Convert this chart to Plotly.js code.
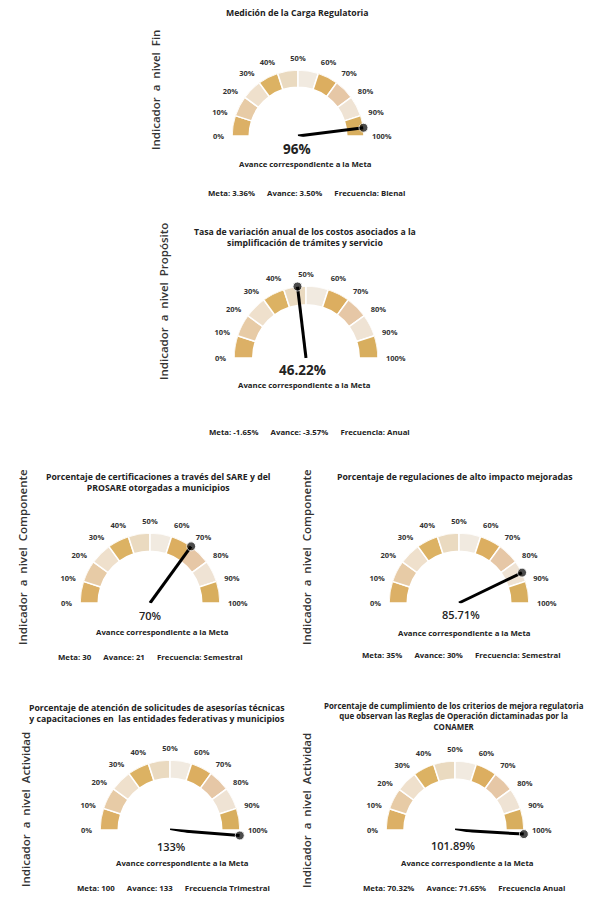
<!DOCTYPE html>
<html>
<head>
<meta charset="utf-8">
<script src="https://cdn.plot.ly/plotly-3.0.1.min.js"></script>
<style>html,body{margin:0;padding:0;background:#fff;}#chart{width:592px;height:912px;}</style>
</head>
<body>
<div id="chart"></div>
<script>
// ---- data ----
const levels = ['Fin', 'Propósito', 'Componente', 'Componente', 'Actividad', 'Actividad'];
const titles = [
  'Medición de la Carga Regulatoria',
  'Tasa de variación anual de los costos asociados a la<br>simplificación de trámites y servicio',
  'Porcentaje de certificaciones a través del SARE y del<br>PROSARE otorgadas a municipios',
  'Porcentaje de regulaciones de alto impacto mejoradas',
  'Porcentaje de atención de solicitudes de asesorías técnicas<br>y capacitaciones en  las entidades federativas y municipios',
  'Porcentaje de cumplimiento de los criterios de mejora regulatoria<br>que observan las Reglas de Operación dictaminadas por la<br>CONAMER'
];
const values = [96, 46.22, 70, 85.71, 133, 101.89];
const valueLabels = ['96%', '46.22%', '70%', '85.71%', '133%', '101.89%'];
const metas = ['Meta: 3.36%', 'Meta: -1.65%', 'Meta: 30', 'Meta: 35%', 'Meta: 100', 'Meta: 70.32%'];
const avances = ['Avance: 3.50%', 'Avance: -3.57%', 'Avance: 21', 'Avance: 30%', 'Avance: 133', 'Avance: 71.65%'];
const frecuencias = ['Frecuencia: Bienal', 'Frecuencia: Anual', 'Frecuencia: Semestral', 'Frecuencia: Semestral', 'Frecuencia Trimestral', 'Frecuencia Anual'];
const tickValues = [0, 10, 20, 30, 40, 50, 60, 70, 80, 90, 100];
const tickLabels = ['0%', '10%', '20%', '30%', '40%', '50%', '60%', '70%', '80%', '90%', '100%'];
const segmentStarts = [0, 10, 20, 30, 40, 50, 60, 70, 80, 90];
const caption = 'Avance correspondiente a la Meta';

// ---- style / layout ----
const W = 592, H = 912;
const FONT = 'Open Sans, Lato, sans-serif';
const segColors = ['#dcb066', '#e7cba6', '#efe0cc', '#dcb263', '#eadac0', '#f1eae0', '#dcae60', '#e6c7a6', '#efe3d4', '#d8ae5e'];
const gauges = [
  {cx: 298, cy: 136, R: 66, title: [297, 13], titleSize: 8.7, side: [155, 90], val: [297, 149], valSize: 13.5, cap: [305, 164], meta: [306, 193]},
  {cx: 306, cy: 358, R: 72, title: [305, 238], titleSize: 8.7, side: [163, 302], val: [302, 370], valSize: 13.5, cap: [304, 385], meta: [309, 432]},
  {cx: 150, cy: 603, R: 70, title: [158, 483], titleSize: 8.7, side: [22, 557], val: [150, 615], valSize: 11, cap: [162, 632], meta: [150, 657]},
  {cx: 459, cy: 603, R: 70, title: [454, 477], titleSize: 8.7, side: [306, 557], val: [461, 614], valSize: 11, cap: [464, 633], meta: [461, 655]},
  {cx: 170, cy: 830, R: 70, title: [157, 713], titleSize: 8.7, side: [25, 810], val: [171, 846], valSize: 11, cap: [182, 863], meta: [173, 888]},
  {cx: 455, cy: 830, R: 69, title: [454, 716], titleSize: 7.9, side: [306, 811], val: [453, 845], valSize: 11, cap: [467, 863], meta: [464, 888]}
];

const pctToTheta = p => 180 - p * 1.8;
const below = Math.sin(10 * Math.PI / 180);
const traces = [];
const layout = {
  width: W, height: H,
  margin: {l: 0, r: 0, t: 0, b: 0},
  paper_bgcolor: '#ffffff',
  showlegend: false,
  font: {family: FONT, color: '#222'},
  annotations: []
};

function ann(text, p, size, weight, extra) {
  return Object.assign({
    text: text, x: p[0] / W, y: 1 - p[1] / H, xref: 'paper', yref: 'paper',
    xanchor: 'center', yanchor: 'middle', showarrow: false,
    font: {family: FONT, size: size, color: '#222', weight: weight}
  }, extra || {});
}
const gap = '\u00a0\u00a0\u00a0\u00a0\u00a0\u00a0';

gauges.forEach((g, i) => {
  const pid = 'polar' + (i === 0 ? '' : (i + 1));
  const sub = pid;
  layout[pid] = {
    domain: {x: [(g.cx - g.R) / W, (g.cx + g.R) / W], y: [(H - g.cy - below * g.R) / H, (H - g.cy + g.R) / H]},
    sector: [-10, 190],
    bgcolor: 'rgba(0,0,0,0)',
    radialaxis: {visible: false, range: [0, 1]},
    angularaxis: {
      direction: 'counterclockwise', rotation: 0,
      tickmode: 'array', tickvals: tickValues.map(pctToTheta), ticktext: tickLabels,
      showline: false, showgrid: false, ticks: 'outside', ticklen: 6, tickcolor: 'rgba(0,0,0,0)',
      tickfont: {family: FONT, size: 7.5, color: '#333', weight: 700}
    }
  };
  traces.push({
    type: 'barpolar', subplot: sub,
    theta: segmentStarts.map(s => pctToTheta(s + 5)),
    r: segmentStarts.map(() => 0.26),
    base: segmentStarts.map(() => 0.74),
    width: segmentStarts.map(() => 18),
    marker: {color: segColors, line: {color: '#ffffff', width: 1.5}},
    hoverinfo: 'skip'
  });
  const shown = Math.min(values[i], 102.5);
  traces.push({
    type: 'scatterpolar', subplot: sub, mode: 'lines+markers',
    r: [0, 1.0], theta: [pctToTheta(shown), pctToTheta(shown)],
    line: {color: '#000', width: 3},
    marker: {color: '#000', size: [0, 9]},
    cliponaxis: false, hoverinfo: 'skip'
  });

  layout.annotations.push(ann(titles[i], g.title, g.titleSize, 700));
  layout.annotations.push(ann('Indicador\u00a0\u00a0a\u00a0\u00a0nivel\u00a0\u00a0' + levels[i], g.side, 11.5, 600,
    {textangle: -90, font: {family: FONT, size: 11.5, color: '#333', weight: 600}}));
  layout.annotations.push(ann(valueLabels[i], g.val, g.valSize, g.valSize > 12 ? 700 : 600));
  layout.annotations.push(ann(caption, g.cap, 7.8, 700));
  layout.annotations.push(ann(metas[i] + gap + avances[i] + gap + frecuencias[i], g.meta, 7.8, 700));
});

Plotly.newPlot('chart', traces, layout, {staticPlot: true, displayModeBar: false});
</script>
</body>
</html>
